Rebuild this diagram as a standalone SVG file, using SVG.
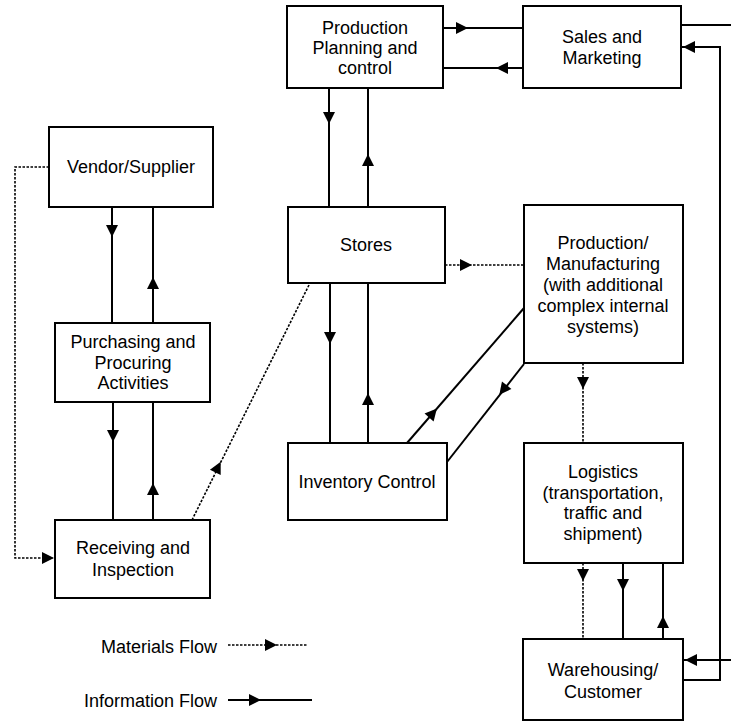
<svg xmlns="http://www.w3.org/2000/svg" xmlns:xlink="http://www.w3.org/1999/xlink" width="731" height="723" viewBox="0 0 731 723">
  <style>
    .box { fill: #fff; stroke: #000; stroke-width: 2; }
    .lbl { font-family: "Liberation Sans", Arial, sans-serif; font-size: 18px; fill: #000; text-anchor: middle; }
    .leg { font-family: "Liberation Sans", Arial, sans-serif; font-size: 18px; fill: #000; text-anchor: end; }
    .info { fill: none; stroke: #000; stroke-width: 2; }
    .mat { fill: none; stroke: #000; stroke-width: 1.6; stroke-dasharray: 2.5 1.5; }
    .head { fill: #000; }
  </style>
  <defs>
    <!-- arrowhead pointing right, centred on the origin -->
    <path id="ah" d="M6,0 L-6,-6 L-6,6 Z"/>
  </defs>

  <rect width="731" height="723" fill="#fff"/>

  <g id="connectors">
    <!-- Production Planning <-> Sales and Marketing -->
    <line class="info" x1="443" y1="28" x2="523" y2="28"/>
    <use href="#ah" class="head" transform="translate(462,28)"/>
    <line class="info" x1="443" y1="68" x2="523" y2="68"/>
    <use href="#ah" class="head" transform="translate(502,68) rotate(180)"/>

    <!-- Sales and Marketing out to the right edge -->
    <line class="info" x1="681" y1="25" x2="731" y2="25"/>
    <!-- Warehousing -> Sales and Marketing -->
    <polyline class="info" points="683,680 720,680 720,47 681,47"/>
    <use href="#ah" class="head" transform="translate(689,47) rotate(180)"/>
    <!-- into Warehousing from the right -->
    <line class="info" x1="731" y1="660" x2="683" y2="660"/>
    <use href="#ah" class="head" transform="translate(691,660) rotate(180)"/>

    <!-- Production Planning <-> Stores -->
    <line class="info" x1="329" y1="88" x2="329" y2="207"/>
    <use href="#ah" class="head" transform="translate(329,118) rotate(90)"/>
    <line class="info" x1="368" y1="88" x2="368" y2="207"/>
    <use href="#ah" class="head" transform="translate(368,160) rotate(-90)"/>

    <!-- Stores <-> Inventory Control -->
    <line class="info" x1="330" y1="283" x2="330" y2="443"/>
    <use href="#ah" class="head" transform="translate(330,338) rotate(90)"/>
    <line class="info" x1="368" y1="283" x2="368" y2="443"/>
    <use href="#ah" class="head" transform="translate(368,399) rotate(-90)"/>

    <!-- Inventory Control <-> Production/Manufacturing -->
    <line class="info" x1="407" y1="443" x2="524" y2="308"/>
    <use href="#ah" class="head" transform="translate(433,413) rotate(-49)"/>
    <line class="info" x1="524" y1="364" x2="447" y2="462"/>
    <use href="#ah" class="head" transform="translate(503,390) rotate(128)"/>

    <!-- Stores -> Production/Manufacturing (materials) -->
    <line class="mat" x1="445" y1="265" x2="524" y2="265"/>
    <use href="#ah" class="head" transform="translate(466,265)"/>

    <!-- Vendor <-> Purchasing -->
    <line class="info" x1="112" y1="207" x2="112" y2="323"/>
    <use href="#ah" class="head" transform="translate(112,231) rotate(90)"/>
    <line class="info" x1="153" y1="207" x2="153" y2="323"/>
    <use href="#ah" class="head" transform="translate(153,283) rotate(-90)"/>

    <!-- Purchasing <-> Receiving -->
    <line class="info" x1="113" y1="402" x2="113" y2="520"/>
    <use href="#ah" class="head" transform="translate(113,436) rotate(90)"/>
    <line class="info" x1="153" y1="402" x2="153" y2="520"/>
    <use href="#ah" class="head" transform="translate(153,489) rotate(-90)"/>

    <!-- Vendor -> Receiving (materials) -->
    <polyline class="mat" points="49,167 15,167 15,558 55,558"/>
    <use href="#ah" class="head" transform="translate(48,558)"/>

    <!-- Receiving -> Stores (materials) -->
    <line class="mat" x1="192" y1="520" x2="310" y2="283"/>
    <use href="#ah" class="head" transform="translate(218,467) rotate(-63.5)"/>

    <!-- Production/Manufacturing -> Logistics (materials) -->
    <line class="mat" x1="583" y1="363" x2="583" y2="443"/>
    <use href="#ah" class="head" transform="translate(583,383) rotate(90)"/>

    <!-- Logistics <-> Warehousing -->
    <line class="mat" x1="583" y1="563" x2="583" y2="639"/>
    <use href="#ah" class="head" transform="translate(583,575) rotate(90)"/>
    <line class="info" x1="623" y1="563" x2="623" y2="639"/>
    <use href="#ah" class="head" transform="translate(623,585) rotate(90)"/>
    <line class="info" x1="663" y1="563" x2="663" y2="639"/>
    <use href="#ah" class="head" transform="translate(663,622) rotate(-90)"/>
  </g>

  <g id="production-planning">
    <rect class="box" x="287" y="6" width="156" height="82"/>
    <text class="lbl" x="365" y="34">Production</text>
    <text class="lbl" x="365" y="54">Planning and</text>
    <text class="lbl" x="365" y="74">control</text>
  </g>

  <g id="sales-marketing">
    <rect class="box" x="523" y="6" width="158" height="82"/>
    <text class="lbl" x="602" y="43">Sales and</text>
    <text class="lbl" x="602" y="64">Marketing</text>
  </g>

  <g id="vendor">
    <rect class="box" x="49" y="127" width="164" height="80"/>
    <text class="lbl" x="131" y="173">Vendor/Supplier</text>
  </g>

  <g id="purchasing">
    <rect class="box" x="55" y="323" width="155" height="79"/>
    <text class="lbl" x="133" y="348">Purchasing and</text>
    <text class="lbl" x="133" y="369">Procuring</text>
    <text class="lbl" x="133" y="389">Activities</text>
  </g>

  <g id="receiving">
    <rect class="box" x="55" y="520" width="155" height="78"/>
    <text class="lbl" x="133" y="554">Receiving and</text>
    <text class="lbl" x="133" y="576">Inspection</text>
  </g>

  <g id="stores">
    <rect class="box" x="288" y="207" width="157" height="76"/>
    <text class="lbl" x="366" y="251">Stores</text>
  </g>

  <g id="inventory-control">
    <rect class="box" x="288" y="443" width="159" height="77"/>
    <text class="lbl" x="367" y="488">Inventory Control</text>
  </g>

  <g id="production-manufacturing">
    <rect class="box" x="524" y="205" width="159" height="158"/>
    <text class="lbl" x="603" y="249">Production/</text>
    <text class="lbl" x="603" y="270">Manufacturing</text>
    <text class="lbl" x="603" y="291">(with additional</text>
    <text class="lbl" x="603" y="312">complex internal</text>
    <text class="lbl" x="603" y="333">systems)</text>
  </g>

  <g id="logistics">
    <rect class="box" x="524" y="443" width="159" height="120"/>
    <text class="lbl" x="603" y="478">Logistics</text>
    <text class="lbl" x="603" y="499">(transportation,</text>
    <text class="lbl" x="603" y="519">traffic and</text>
    <text class="lbl" x="603" y="540">shipment)</text>
  </g>

  <g id="warehousing">
    <rect class="box" x="523" y="639" width="160" height="81"/>
    <text class="lbl" x="603" y="676">Warehousing/</text>
    <text class="lbl" x="603" y="698">Customer</text>
  </g>

  <g id="legend">
    <text class="leg" x="217" y="653">Materials Flow</text>
    <line class="mat" x1="228" y1="645" x2="307" y2="645"/>
    <use href="#ah" class="head" transform="translate(271,645)"/>
    <text class="leg" x="217" y="707">Information Flow</text>
    <line class="info" x1="228" y1="700" x2="312" y2="700"/>
    <use href="#ah" class="head" transform="translate(255,700)"/>
  </g>
</svg>
